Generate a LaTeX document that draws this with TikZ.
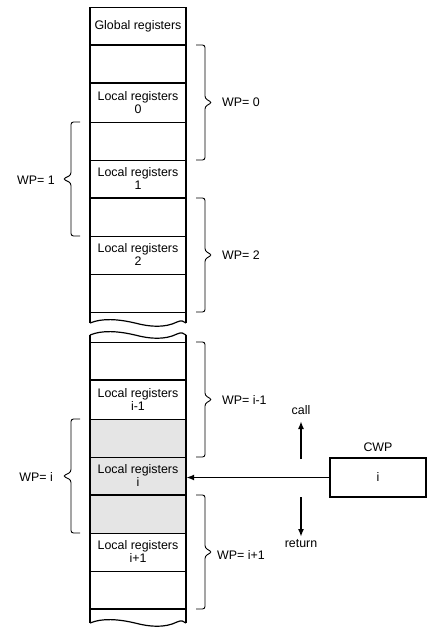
\documentclass[tikz,border=0pt]{standalone}
\usepackage{fontspec}
\setmainfont{Liberation Sans}
\usetikzlibrary{arrows.meta}
\tikzset{
  thinl/.style={line width=0.7pt},
  thickl/.style={line width=1.6pt},
  wavel/.style={line width=1.2pt},
  brc/.style={line width=0.9pt, rounded corners=2.5pt},
  rowtext/.style={minimum width=96pt, minimum height=38pt, inner sep=0pt, align=center, font=\fontsize{12.4}{13}\selectfont},
  lbl/.style={font=\fontsize{12.4}{14}\selectfont, inner sep=0pt},
  arr/.style={line width=1.8pt, -{Latex[length=8pt,width=6pt]}},
  cwpbox/.style={draw, line width=1.2pt, minimum width=96pt, minimum height=39pt, inner sep=0pt, font=\fontsize{12.4}{14}\selectfont},
}
\newcommand\wavyline[1]{\draw[wavel] (90,#1) .. controls (102,{#1-5}) and (118,{#1-4}) .. (135,{#1}) .. controls (150,{#1+4}) and (165,{#1+5}) .. (177,{#1-1}) .. controls (181,{#1-3}) and (184,{#1-2}) .. (186,{#1});}
\newcommand\rbrc[3]{\draw[brc] (196,#1) -- (205,#1) -- (205,{#3-4}) -- (212,#3) -- (205,{#3+4}) -- (205,#2) -- (196,#2);}
\newcommand\lbrc[3]{\draw[brc] (80,#1) -- (71,#1) -- (71,{#3-4}) -- (63,#3) -- (71,{#3+4}) -- (71,#2) -- (80,#2);}
\begin{document}
\begin{tikzpicture}[x=1pt,y=-1pt]
\useasboundingbox (0,0) rectangle (435,629);
% gray window
\fill[black!10] (90,419) rectangle (186,533);
% column sides
\draw[thickl] (90,7) -- (90,323);
\draw[thickl] (186,7) -- (186,323);
\draw[thickl] (90,335) -- (90,623);
\draw[thickl] (186,335) -- (186,623);
% row separators
\foreach \yy in {7,122,160,236,274,312,342,419,457,533,571}
  \draw[thinl] (90,\yy) -- (186,\yy);
\foreach \yy in {45,83,198,380,495,609}
  \draw[thickl] (90,\yy) -- (186,\yy);
% breaks
\wavyline{323}
\wavyline{335}
\wavyline{623}
% row texts
\node[rowtext] (g) at (138,26) {Global registers};
\node[rowtext] (l0) at (138,103) {Local registers\\0};
\node[rowtext] (l1) at (138,179) {Local registers\\1};
\node[rowtext] (l2) at (138,255) {Local registers\\2};
\node[rowtext] (lim1) at (138,400) {Local registers\\i-1};
\node[rowtext] (li) at (138,476) {Local registers\\i};
\node[rowtext] (lip1) at (138,552) {Local registers\\i+1};
% braces
\rbrc{45}{160}{102.5}
\lbrc{122}{236}{179}
\rbrc{198}{312}{255}
\rbrc{342}{457}{399.5}
\lbrc{419}{533}{476}
\rbrc{495}{609}{552}
% brace labels
\node[lbl, anchor=west] (wp0) at (222,102.5) {WP= 0};
\node[lbl, anchor=east] (wp1) at (55,180) {WP= 1};
\node[lbl, anchor=west] (wp2) at (222,255) {WP= 2};
\node[lbl, anchor=west] (wpim1) at (222,400) {WP= i-1};
\node[lbl, anchor=east] (wpi) at (53,477) {WP= i};
\node[lbl, anchor=west] (wpip1) at (217,555) {WP= i+1};
% CWP
\node[cwpbox] (cwp) at (378,477.5) {i};
\node[lbl] (cwplbl) at (378,447) {CWP};
\draw[arr] (cwp.west) -- (cwp.west -| li.east);
% call / return
\coordinate (callS) at (301,459);
\coordinate (callE) at (301,421);
\node[lbl] (call) at (301,410) {call};
\draw[arr] (callS) -- (callE);
\coordinate (retS) at (301,497);
\coordinate (retE) at (301,537);
\node[lbl] (ret) at (301,543.5) {return};
\draw[arr] (retS) -- (retE);
\end{tikzpicture}
\end{document}
